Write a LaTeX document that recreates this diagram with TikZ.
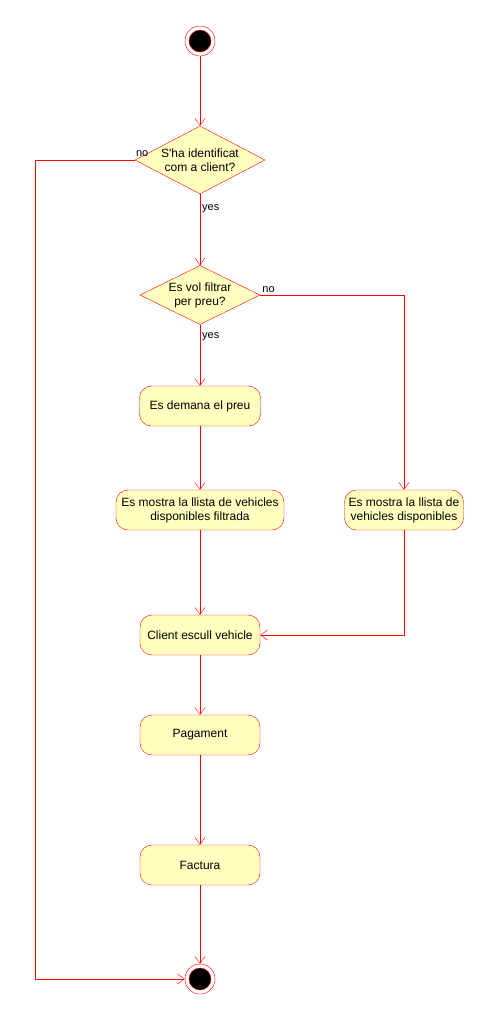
\documentclass[tikz,border=0pt]{standalone}
\usepackage{fontspec}
\setmainfont{Liberation Sans}
\usetikzlibrary{shapes.geometric,arrows.meta}

\definecolor{actfill}{HTML}{FFFFC0}
\definecolor{actline}{HTML}{FF0000}

\begin{document}
\begin{tikzpicture}[x=1pt,y=-1pt,font=\fontsize{12}{14}\selectfont]

	\tikzstyle activity=[draw=actline, fill=actfill, rounded corners=12pt, minimum height=40pt, inner sep=2pt, align=center];
	\tikzstyle decision=[draw=actline, fill=actfill, diamond, aspect=2, inner sep=-4pt, align=center];
	\tikzstyle terminal=[draw=actline, fill=white, circle, minimum size=30pt, inner sep=0pt,
		path picture={\fill[black, draw=actline] (path picture bounding box.center) circle (11pt);}];
	\tikzstyle flow=[draw=actline, -{Straight Barb[length=7pt,width=10pt]}];
	\tikzstyle guard=[font=\fontsize{11}{13}\selectfont, inner sep=0pt];

	\useasboundingbox (0,0) rectangle (490,1021);

	\node[terminal] (start) at (200,41) {};
	\node[decision, minimum width=130pt, minimum height=68pt] (ident) at (200,160) {S\textquotesingle ha identificat\\com a client?};
	\node[decision, minimum width=120pt, minimum height=59pt] (filtre) at (200,295) {Es vol filtrar\\per preu?};
	\node[activity, minimum width=121pt] (preu) at (200,406) {Es demana el preu};
	\node[activity, minimum width=168pt] (filtrada) at (200,510) {Es mostra la llista de vehicles\\disponibles filtrada};
	\node[activity, minimum width=119pt] (totes) at (404,510) {Es mostra la llista de\\vehicles disponibles};
	\node[activity, minimum width=120pt] (escull) at (200,635) {Client escull vehicle};
	\node[activity, minimum width=120pt] (pagament) at (200,735) {Pagament};
	\node[activity, minimum width=120pt] (factura) at (200,865) {Factura};
	\node[terminal] (end) at (200,979) {};

	\coordinate (noident) at (35,160);
	\coordinate (nofiltre) at (404,295);

	% guards
	\node[guard, anchor=south west, xshift=1pt, yshift=3pt] (no1) at (ident.west) {no};
	\node[guard, anchor=north west, xshift=2pt, yshift=-10pt] (yes1) at (ident.south) {yes};
	\node[guard, anchor=south west, xshift=2pt, yshift=2pt] (no2) at (filtre.east) {no};
	\node[guard, anchor=north west, xshift=2pt, yshift=-8pt] (yes2) at (filtre.south) {yes};

	\draw[flow] (start) -- (ident);
	\draw[flow] (ident.west) -- (noident) |- (end.west);
	\draw[flow] (ident.south) -- (filtre.north);
	\draw[flow] (filtre.east) -- (nofiltre) -- (totes.north);
	\draw[flow] (filtre.south) -- (preu.north);
	\draw[flow] (preu) -- (filtrada);
	\draw[flow] (filtrada) -- (escull);
	\draw[flow] (totes.south) |- (escull.east);
	\draw[flow] (escull) -- (pagament);
	\draw[flow] (pagament) -- (factura);
	\draw[flow] (factura) -- (end);

\end{tikzpicture}
\end{document}
